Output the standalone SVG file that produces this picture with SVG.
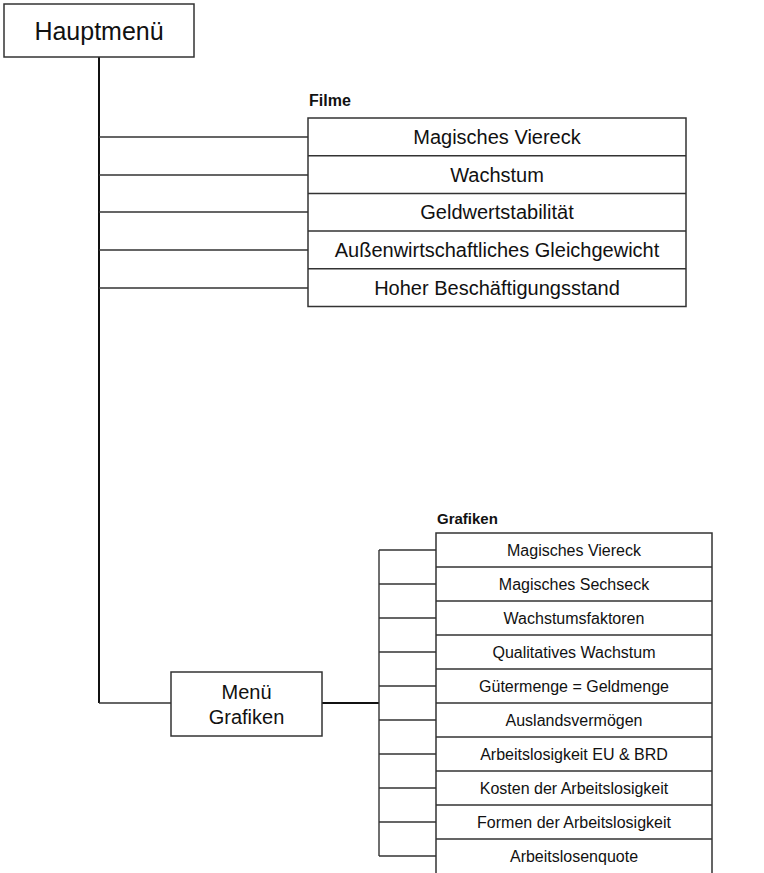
<svg xmlns="http://www.w3.org/2000/svg" width="764" height="873" viewBox="0 0 764 873">
<style>
.box{fill:#fff;stroke:#333;stroke-width:1.5}
.row{stroke:#333;stroke-width:1.5}
.con{fill:none;stroke:#333;stroke-width:1.4}
.trunk{fill:none;stroke:#111;stroke-width:2}
text{font-family:"Liberation Sans",Arial,sans-serif;fill:#111;text-anchor:middle}
.f{font-size:20px}
.g{font-size:16px}
.lbl{font-weight:bold;text-anchor:start}
</style>
<rect width="764" height="873" fill="#fff"/>
<g id="connectors">
<path class="trunk" d="M99,57V703"/>
<path class="con" d="M99,137H308M99,175H308M99,212H308M99,250H308M99,288H308"/>
<path class="con" d="M99,703H171"/>
<path class="trunk" d="M322,703H379"/>
<path class="con" d="M379,550V856M379,550H436M379,584H436M379,618H436M379,652H436M379,686H436M379,720H436M379,754H436M379,788H436M379,822H436M379,856H436"/>
</g>
<g id="hauptmenue">
<rect class="box" x="4" y="4" width="190" height="53"/>
<text x="99" y="39.5" style="font-size:25px">Hauptmenü</text>
</g>
<g id="filme">
<text class="lbl" x="309" y="106" style="font-size:16px">Filme</text>
<rect class="box" x="308" y="118" width="378" height="188.5"/>
<path class="row" d="M308,155.7H686M308,193.4H686M308,231.1H686M308,268.8H686"/>
<text class="f" x="497" y="144">Magisches Viereck</text>
<text class="f" x="497" y="181.7">Wachstum</text>
<text class="f" x="497" y="219.4">Geldwertstabilität</text>
<text class="f" x="497" y="257.1">Außenwirtschaftliches Gleichgewicht</text>
<text class="f" x="497" y="294.8">Hoher Beschäftigungsstand</text>
</g>
<g id="menue-grafiken">
<rect class="box" x="171" y="672" width="151" height="64"/>
<text class="f" x="246.5" y="699">Menü</text>
<text class="f" x="246.5" y="724">Grafiken</text>
</g>
<g id="grafiken">
<text class="lbl" x="437" y="524" style="font-size:15px">Grafiken</text>
<rect class="box" x="436" y="533" width="276" height="345"/>
<path class="row" d="M436,567H712M436,601H712M436,635H712M436,669H712M436,703H712M436,737H712M436,771H712M436,805H712M436,839H712"/>
<text class="g" x="574" y="555.8">Magisches Viereck</text>
<text class="g" x="574" y="589.8">Magisches Sechseck</text>
<text class="g" x="574" y="623.8">Wachstumsfaktoren</text>
<text class="g" x="574" y="657.8">Qualitatives Wachstum</text>
<text class="g" x="574" y="691.8">Gütermenge = Geldmenge</text>
<text class="g" x="574" y="725.8">Auslandsvermögen</text>
<text class="g" x="574" y="759.8">Arbeitslosigkeit EU &amp; BRD</text>
<text class="g" x="574" y="793.8">Kosten der Arbeitslosigkeit</text>
<text class="g" x="574" y="827.8">Formen der Arbeitslosigkeit</text>
<text class="g" x="574" y="861.8">Arbeitslosenquote</text>
</g>
</svg>
